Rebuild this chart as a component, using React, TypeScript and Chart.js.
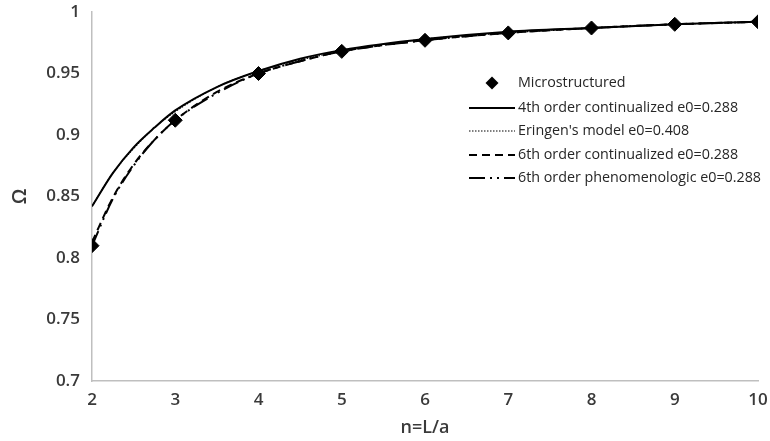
import React, { useEffect, useRef } from "react";
import { Chart, registerables } from "chart.js";

Chart.register(...registerables);

const microX = [2, 3, 4, 5, 6, 7, 8, 9, 10];
const microValues = [0.810, 0.912, 0.950, 0.968, 0.977, 0.983, 0.987, 0.990, 0.992];

const curveX = [2, 2.25, 2.5, 2.75, 3, 3.5, 4, 4.5, 5, 6, 7, 8, 9, 10];
const fourthOrder = [0.842, 0.869, 0.890, 0.906, 0.920, 0.939, 0.952, 0.962, 0.969, 0.978, 0.984, 0.987, 0.990, 0.992];
const eringen = [0.842, 0.869, 0.889, 0.906, 0.919, 0.939, 0.952, 0.961, 0.968, 0.978, 0.983, 0.987, 0.990, 0.992];
const sixthContinualized = [0.813, 0.849, 0.876, 0.896, 0.912, 0.935, 0.950, 0.960, 0.968, 0.977, 0.983, 0.987, 0.990, 0.992];
const sixthPhenomenologic = [0.810, 0.848, 0.875, 0.896, 0.912, 0.934, 0.950, 0.960, 0.968, 0.977, 0.983, 0.987, 0.990, 0.992];

const legendLabels = [
  "Microstructured",
  "4th order continualized e0=0.288",
  "Eringen's model e0=0.408",
  "6th order continualized e0=0.288",
  "6th order phenomenologic e0=0.288",
];

const FONT = "'Open Sans', 'Noto Sans', sans-serif";
const TEXT = "#3a3a3a";

const toPts = (xs: number[], ys: number[]) => xs.map((x, i) => ({ x, y: ys[i] }));

const legendPlugin = {
  id: "insideLegend",
  afterDatasetsDraw(chart: any) {
    const ctx = chart.ctx as CanvasRenderingContext2D;
    const rows = [83, 108, 131, 155, 178];
    const lineX0 = 469;
    const lineX1 = 515;
    const textX = 518;
    ctx.save();
    ctx.font = `14.3px ${FONT}`;
    ctx.textBaseline = "middle";
    ctx.textAlign = "left";
    ctx.beginPath();
    const cx = 492, cy = rows[0], r = 6.5;
    ctx.moveTo(cx, cy - r);
    ctx.lineTo(cx + r, cy);
    ctx.lineTo(cx, cy + r);
    ctx.lineTo(cx - r, cy);
    ctx.closePath();
    ctx.fillStyle = "#000";
    ctx.fill();
    const styles: { dash: number[]; w: number }[] = [
      { dash: [], w: 2 },
      { dash: [1.5, 1.5], w: 1.2 },
      { dash: [8, 5], w: 2 },
      { dash: [16, 5, 2, 5, 2, 5], w: 2 },
    ];
    styles.forEach((s, i) => {
      ctx.beginPath();
      ctx.setLineDash(s.dash);
      ctx.lineWidth = s.w;
      ctx.strokeStyle = "#000";
      ctx.moveTo(lineX0, rows[i + 1]);
      ctx.lineTo(lineX1, rows[i + 1]);
      ctx.stroke();
    });
    ctx.setLineDash([]);
    ctx.fillStyle = "#262626";
    legendLabels.forEach((t, i) => ctx.fillText(t, textX, rows[i]));
    ctx.restore();
  },
};

export default function App() {
  const ref = useRef<HTMLCanvasElement | null>(null);
  useEffect(() => {
    if (!ref.current) return;
    const lineCommon = {
      type: "line" as const,
      pointRadius: 0,
      borderColor: "#000",
      backgroundColor: "#000",
      fill: false,
      cubicInterpolationMode: "monotone" as const,
    };
    const chart = new Chart(ref.current, {
      type: "line",
      data: {
        datasets: [
          {
            ...lineCommon,
            label: legendLabels[4],
            data: toPts(curveX, sixthPhenomenologic),
            borderWidth: 2,
            borderDash: [16, 5, 2, 5, 2, 5],
            order: 5,
          },
          {
            ...lineCommon,
            label: legendLabels[3],
            data: toPts(curveX, sixthContinualized),
            borderWidth: 2,
            borderDash: [8, 5],
            order: 4,
          },
          {
            ...lineCommon,
            label: legendLabels[2],
            data: toPts(curveX, eringen),
            borderWidth: 1.2,
            borderDash: [1.5, 1.5],
            order: 3,
          },
          {
            ...lineCommon,
            label: legendLabels[1],
            data: toPts(curveX, fourthOrder),
            borderWidth: 2,
            order: 2,
          },
          {
            type: "line",
            label: legendLabels[0],
            data: toPts(microX, microValues),
            showLine: false,
            pointStyle: "rectRot",
            pointRadius: 7,
            pointBackgroundColor: "#000",
            pointBorderColor: "#000",
            order: 1,
          },
        ] as any,
      },
      plugins: [legendPlugin],
      options: {
        animation: false,
        responsive: false,
        maintainAspectRatio: false,
        layout: { padding: { left: 0, right: 12, top: 12, bottom: 0 } },
        plugins: {
          legend: { display: false },
          tooltip: { enabled: false },
        },
        scales: {
          x: {
            type: "linear",
            min: 2,
            max: 10,
            ticks: {
              stepSize: 1,
              color: TEXT,
              font: { family: FONT, size: 17, weight: "600" },
              padding: 9,
            },
            grid: { display: false, drawTicks: false },
            border: { display: true, color: "#bfbfbf", width: 1.5 },
            title: {
              display: true,
              text: "n=L/a",
              color: TEXT,
              font: { family: FONT, size: 18, weight: "600" },
              padding: { top: 4, bottom: 2 },
            },
            afterFit: (s: any) => {
              s.height = 60;
              s.paddingLeft = 0;
              s.paddingRight = 0;
            },
          },
          y: {
            type: "linear",
            min: 0.7,
            max: 1,
            ticks: {
              stepSize: 0.05,
              color: TEXT,
              font: { family: FONT, size: 17, weight: "600" },
              padding: 12,
              callback: (v: any) => String(Number(Number(v).toFixed(2))),
            },
            grid: { display: false, drawTicks: false },
            border: { display: true, color: "#bfbfbf", width: 1.5 },
            title: {
              display: true,
              text: "Ω",
              color: TEXT,
              font: { family: FONT, size: 20, weight: "600" },
              padding: { top: 8, bottom: 0 },
            },
            afterFit: (s: any) => {
              s.width = 92;
              s.paddingTop = 0;
              s.paddingBottom = 0;
            },
          },
        },
      } as any,
    });
    return () => chart.destroy();
  }, []);
  return (
    <div style={{ position: "absolute", left: 0, top: 0, width: 770, height: 441, background: "#fff" }}>
      <canvas ref={ref} width={770} height={441} style={{ width: 770, height: 441 }} />
    </div>
  );
}
